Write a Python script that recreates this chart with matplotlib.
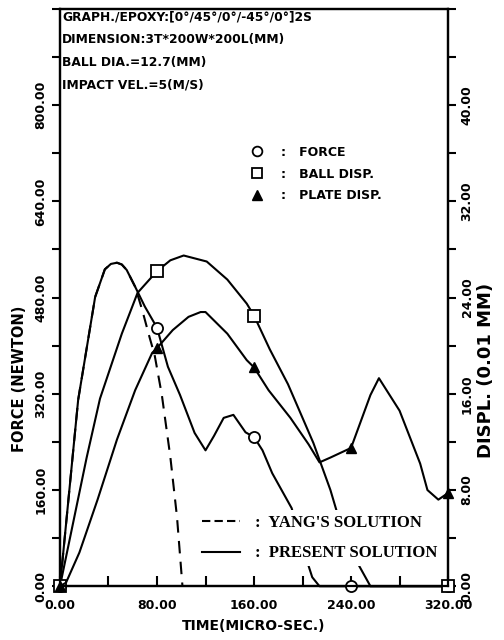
import numpy as np
import matplotlib
matplotlib.use("Agg")
import matplotlib.pyplot as plt
from matplotlib.lines import Line2D

# ---- data ----
# contact force (N)
force_t = [0, 15, 29, 37, 42, 47, 51, 55, 62, 70, 80, 89, 99, 111, 120, 127,
           135, 143, 153, 160, 167, 175, 191, 204, 208, 214, 240, 320]
force_v = [0, 310, 481, 527, 536, 538, 535, 526, 498, 465, 430, 365, 318, 255,
           226, 250, 280, 285, 256, 248, 226, 188, 130, 40, 15, 0, 0, 0]

# ball displacement (0.01 mm)
ball_t = [0, 22, 33, 51, 64, 80, 91, 102, 121, 138, 154, 160, 173, 188, 209,
          223, 228, 245, 256, 320]
ball_v = [0, 10.7, 15.6, 21.0, 24.4, 26.2, 27.1, 27.5, 27.0, 25.5, 23.5, 22.5,
          19.7, 16.8, 11.9, 8.0, 6.3, 2.0, 0, 0]

# plate displacement (0.01 mm)
plate_t = [0, 5, 16, 31, 47, 62, 76, 80, 93, 106, 116, 120, 138, 154, 160, 172,
           190, 205, 214, 223, 240, 256, 263, 280, 297, 303, 312, 320]
plate_v = [0, 0.3, 2.8, 7.2, 12.2, 16.3, 19.4, 19.8, 21.3, 22.4, 22.8, 22.8,
           21.0, 18.8, 18.2, 16.3, 14.0, 11.8, 10.3, 10.7, 11.5, 15.9, 17.3,
           14.6, 10.2, 8.0, 7.2, 7.75]

# Yang's solution (force, N)
yang_t = [0, 15, 29, 37, 42, 47, 51, 55, 62, 68, 74, 78, 84, 91, 96.5, 101]
yang_v = [0, 310, 481, 527, 536, 538, 535, 526, 498, 458, 413, 385, 318, 215,
          115, 0]

force_marks = [0, 80, 160, 240, 320]
ball_marks = [0, 80, 160, 320]
plate_marks = [0, 80, 160, 240, 320]

x_ticks = [0, 80, 160, 240, 320]
f_ticks = [0, 160, 320, 480, 640, 800]
d_ticks = [0, 8, 16, 24, 32, 40]

header = ["GRAPH./EPOXY:[0\u00b0/45\u00b0/0\u00b0/-45\u00b0/0\u00b0]2S",
          "DIMENSION:3T*200W*200L(MM)",
          "BALL DIA.=12.7(MM)",
          "IMPACT VEL.=5(M/S)"]

# ---- figure ----
fig = plt.figure(figsize=(5.04, 6.4), dpi=100)
ax = fig.add_axes([0.119, 0.084, 0.770, 0.902])
ax2 = ax.twinx()

lw = 1.5
tf = np.array(force_t)
ax.plot(tf, force_v, color='black', lw=lw, marker='o', ms=8, mfc='white',
        mew=1.3, markevery=list(np.where(np.isin(tf, force_marks))[0]),
        zorder=3, clip_on=False)
ax.plot(yang_t, yang_v, color='black', lw=lw, ls=(0, (6, 4)), zorder=2)

tb = np.array(ball_t)
ax2.plot(tb, ball_v, color='black', lw=lw, marker='s', ms=8, mfc='white',
         mew=1.3, markevery=list(np.where(np.isin(tb, ball_marks))[0]),
         clip_on=False)
tp = np.array(plate_t)
ax2.plot(tp, plate_v, color='black', lw=lw, marker='^', ms=7,
         markevery=list(np.where(np.isin(tp, plate_marks))[0]), clip_on=False)

ax.set_xlim(0, 320)
ax.set_ylim(0, 960)
ax2.set_ylim(0, 48)

tick_font = dict(fontsize=9, fontweight='bold', family='DejaVu Sans')
ax.set_xticks(x_ticks)
ax.set_xticklabels([f"{v:.2f}" for v in x_ticks], **tick_font)
ax.set_xticks(np.arange(0, 321, 40), minor=True)
ax.set_yticks(f_ticks)
ax.set_yticklabels([f"{v:.2f}" for v in f_ticks], rotation=90, va='center',
                   **tick_font)
ax.set_yticks(np.arange(0, 961, 80), minor=True)
ax2.set_yticks(d_ticks)
ax2.set_yticklabels([f"{v:.2f}" for v in d_ticks], rotation=90, va='center',
                    **tick_font)
ax2.set_yticks(np.arange(0, 48.1, 4), minor=True)

ax.tick_params(axis='x', which='both', direction='in', length=7, width=1.5,
               pad=9)
ax.tick_params(axis='y', which='both', direction='out', length=6, width=1.5,
               pad=3)
ax2.tick_params(axis='y', which='both', direction='out', length=6, width=1.5,
                pad=3)
for a in (ax, ax2):
    for s in a.spines.values():
        s.set_linewidth(1.6)

ax.text(-0.105, 0.36, "FORCE (NEWTON)", transform=ax.transAxes, rotation=90,
        ha='center', va='center', fontsize=10.5, fontweight='bold')
ax.text(1.098, 0.374, "DISPL. (0.01 MM)", transform=ax.transAxes, rotation=90,
        ha='center', va='center', fontsize=13, fontweight='bold')
ax.set_xlabel("TIME(MICRO-SEC.)", fontsize=10, fontweight='bold', labelpad=5)

for i, line in enumerate(header):
    ax.text(0.006, 0.986 - i * 0.0395, line, transform=ax.transAxes,
            ha='left', va='center', fontsize=8.8, fontweight='bold')

# marker key
mk = [Line2D([], [], color='black', marker='o', ls='none', ms=7, mfc='white', mew=1.3),
      Line2D([], [], color='black', marker='s', ls='none', ms=7, mfc='white', mew=1.3),
      Line2D([], [], color='black', marker='^', ls='none', ms=7)]
leg1 = ax2.legend(mk, [":   FORCE", ":   BALL DISP.", ":   PLATE DISP."],
                  loc='upper left', bbox_to_anchor=(0.47, 0.778),
                  frameon=False, handlelength=1.0, handletextpad=1.4,
                  labelspacing=0.7, borderpad=0.2,
                  prop=dict(size=9, weight='bold', family='DejaVu Sans'))
ax2.add_artist(leg1)

# line key
lk = [Line2D([], [], color='black', lw=lw, ls=(0, (4, 2))),
      Line2D([], [], color='black', lw=lw)]
leg2 = ax2.legend(lk, [":  YANG'S SOLUTION", ":  PRESENT SOLUTION"],
                  loc='lower left', bbox_to_anchor=(0.331, 0.02),
                  frameon=True, facecolor='white', edgecolor='none',
                  framealpha=1, fancybox=False, handlelength=2.3,
                  handletextpad=0.9, labelspacing=0.87, borderpad=0.3,
                  prop=dict(size=12, weight='bold', family='Liberation Serif'))
leg2.set_zorder(10)

fig.savefig("out.png", dpi=100)
